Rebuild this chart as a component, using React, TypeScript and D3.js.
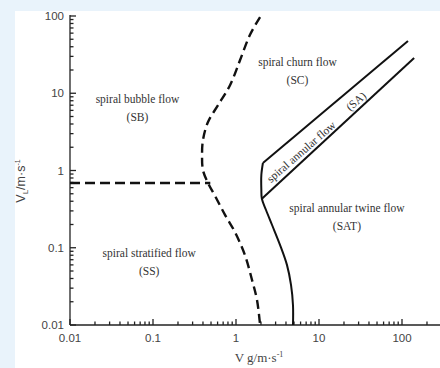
import React from "react";
import * as d3 from "d3";

// ---- data ----
const xMajorTicks = [0.01, 0.1, 1, 10, 100];
const xTickLabels = ["0.01", "0.1", "1", "10", "100"];
const yMajorTicks = [0.01, 0.1, 1, 10, 100];
const yTickLabels = ["0.01", "0.1", "1", "10", "100"];

// dashed boundary curve (SB/SS | SC/SAT side)
const dashedVg = [1.95, 1.47, 1.12, 0.85, 0.61, 0.46, 0.40, 0.39, 0.40, 0.46, 0.56, 0.74, 0.97, 1.28, 1.56, 1.79, 1.95];
const dashedVl = [97, 56.8, 26.9, 12.8, 7.05, 4.25, 2.48, 1.59, 1.01, 0.69, 0.468, 0.265, 0.16, 0.0805, 0.0383, 0.0211, 0.01];

// dashed horizontal SB / SS boundary
const horizVg = [0.01, 0.49];
const horizVl = [0.69, 0.69];

// solid boundary SC / SAT
const solidVg = [2.11, 2.02, 2.02, 2.05, 2.3, 2.72, 3.39, 4.11, 4.6, 4.86, 4.86];
const solidVl = [1.25, 0.875, 0.56, 0.43, 0.308, 0.197, 0.109, 0.06, 0.033, 0.018, 0.01];

// SA band
const saUpperVg = [2.11, 118];
const saUpperVl = [1.25, 47.4];
const saLowerVg = [2.05, 140];
const saLowerVl = [0.43, 28.6];

const regionLabels = [
  { name: "spiral bubble flow", abbr: "(SB)", vg: 0.065, vl: 8.4 },
  { name: "spiral churn flow", abbr: "(SC)", vg: 5.5, vl: 25.4 },
  { name: "spiral stratified flow", abbr: "(SS)", vg: 0.09, vl: 0.0855 },
  { name: "spiral annular twine flow", abbr: "(SAT)", vg: 21.7, vl: 0.327 },
];

// SA label anchors (data coords)
const saTextVg = [2.45, 27.9];
const saTextVl = [0.75, 7.9];
const saTexts = ["spiral annular flow", "(SA)"];

const W = 440;
const H = 368;

export default function App() {
  const x = d3.scaleLog().domain([0.01, 100]).range([70, 402]);
  const y = d3.scaleLog().domain([0.01, 100]).range([325, 16]);
  const xMax = 300;

  const xMinor = d3
    .range(-2, 3)
    .flatMap((e) => d3.range(2, 10).map((m) => m * Math.pow(10, e)))
    .filter((v) => v <= xMax);
  const yMinor = d3
    .range(-2, 2)
    .flatMap((e) => d3.range(2, 10).map((m) => m * Math.pow(10, e)));

  const curve = d3
    .line<[number, number]>()
    .x((d) => x(d[0]))
    .y((d) => y(d[1]))
    .curve(d3.curveCatmullRom.alpha(0.5));
  const straight = d3
    .line<[number, number]>()
    .x((d) => x(d[0]))
    .y((d) => y(d[1]));

  const zip = (a: number[], b: number[]) => a.map((v, i) => [v, b[i]] as [number, number]);

  const ax0 = x(0.01);
  const ay0 = y(0.01);

  const ang = -41;

  const tickFont = "'Liberation Sans', Arial, sans-serif";
  const serif = "'Liberation Serif', 'Times New Roman', serif";

  return (
    <svg width={W} height={H} style={{ position: "absolute", left: 0, top: 0 }}>
      <rect x={0} y={0} width={W} height={H} fill="#e9f3fb" />
      <rect x={15} y={11} width={W - 15} height={H - 11} fill="#ffffff" />

      {/* axes */}
      <g stroke="#222" strokeWidth={1.3} fill="none">
        <line x1={ax0} y1={ay0} x2={ax0} y2={y(100) - 1} />
        <line x1={ax0} y1={ay0} x2={x(xMax) + 2} y2={ay0} />
        {yMajorTicks.map((v) => (
          <line key={"ym" + v} x1={ax0} x2={ax0 + 6} y1={y(v)} y2={y(v)} />
        ))}
        {yMinor.map((v) => (
          <line key={"yn" + v} x1={ax0} x2={ax0 + 3.5} y1={y(v)} y2={y(v)} />
        ))}
        {xMajorTicks.map((v) => (
          <line key={"xm" + v} x1={x(v)} x2={x(v)} y1={ay0} y2={ay0 - 6} />
        ))}
        {xMinor.map((v) => (
          <line key={"xn" + v} x1={x(v)} x2={x(v)} y1={ay0} y2={ay0 - 3.5} />
        ))}
      </g>

      {/* tick labels */}
      <g fontFamily={tickFont} fontSize={11.5} fill="#444">
        {yMajorTicks.map((v, i) => (
          <text key={"yl" + v} x={ax0 - 6} y={y(v)} dy="0.35em" textAnchor="end">
            {yTickLabels[i]}
          </text>
        ))}
        {xMajorTicks.map((v, i) => (
          <text key={"xl" + v} x={x(v)} y={ay0 + 13} dy="0.35em" textAnchor="middle">
            {xTickLabels[i]}
          </text>
        ))}
      </g>

      {/* axis titles */}
      <text
        transform={`translate(25,181) rotate(-90)`}
        textAnchor="middle"
        fontFamily={tickFont}
        fontSize={12.5}
        fill="#444"
      >
        V<tspan fontSize={8} dy={3}>L</tspan>
        <tspan dy={-3}>/m·s</tspan>
        <tspan fontSize={7} dy={-5}>-1</tspan>
      </text>
      <text x={259} y={362} textAnchor="middle" fontFamily={serif} fontSize={13} fill="#444">
        V g/m·s<tspan fontSize={8} dy={-5}>-1</tspan>
      </text>

      {/* boundaries */}
      <g fill="none" stroke="#111">
        <path
          d={curve(zip(dashedVg, dashedVl)) || ""}
          strokeWidth={2.4}
          strokeDasharray="9,5"
        />
        <path d={straight(zip(horizVg, horizVl)) || ""} strokeWidth={2.4} strokeDasharray="10,5" />
        <path d={curve(zip(solidVg, solidVl)) || ""} strokeWidth={2} />
        <path d={straight(zip(saUpperVg, saUpperVl)) || ""} strokeWidth={2} />
        <path d={straight(zip(saLowerVg, saLowerVl)) || ""} strokeWidth={2} />
      </g>

      {/* region labels */}
      <g fontFamily={serif} fontSize={11.5} fill="#333" textAnchor="middle">
        {regionLabels.map((r) => (
          <g key={r.abbr}>
            <text x={x(r.vg)} y={y(r.vl)} dy="0.35em">
              {r.name}
            </text>
            <text x={x(r.vg)} y={y(r.vl) + 18} dy="0.35em">
              {r.abbr}
            </text>
          </g>
        ))}
        {saTexts.map((t, i) => (
          <text
            key={t}
            transform={`translate(${x(saTextVg[i])},${y(saTextVl[i])}) rotate(${ang})`}
            textAnchor={i === 0 ? "start" : "middle"}
            dy="0.35em"
          >
            {t}
          </text>
        ))}
      </g>
    </svg>
  );
}
